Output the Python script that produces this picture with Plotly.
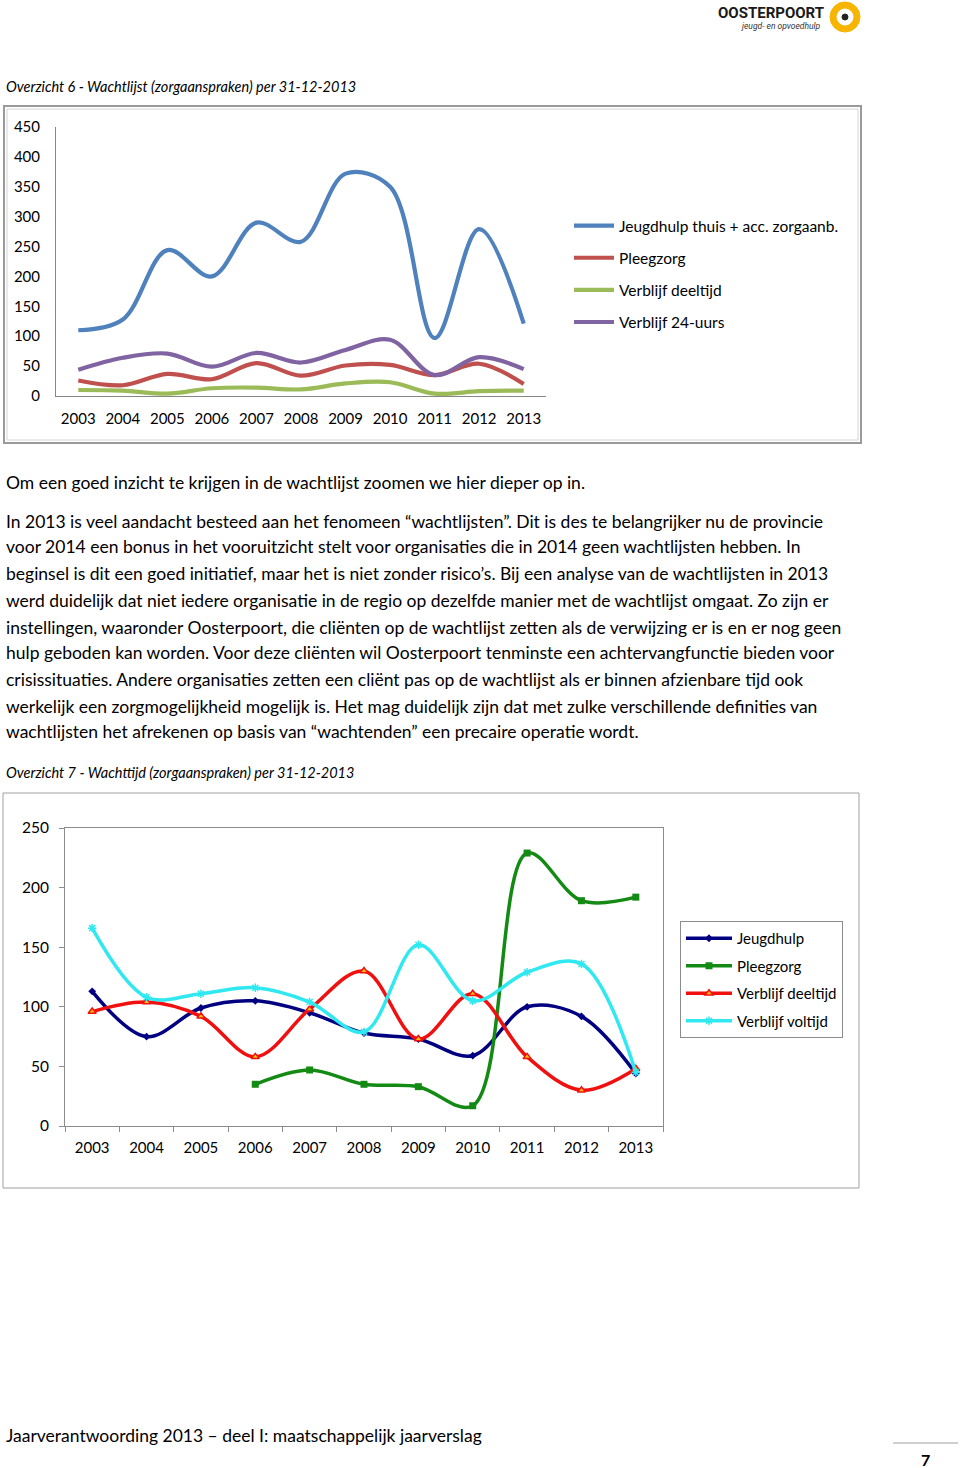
import plotly.graph_objects as go

W, H = 960, 1468
def px(x): return x / W
def py(y): return 1 - y / H

# ---------------- Data: Overzicht 6 ----------------
years = ["2003", "2004", "2005", "2006", "2007", "2008", "2009", "2010", "2011", "2012", "2013"]
ov6_names = ["Jeugdhulp thuis + acc. zorgaanb.", "Pleegzorg", "Verblijf deeltijd", "Verblijf 24-uurs"]
ov6_jeugdhulp = [110, 128, 244, 200, 290, 258, 372, 350, 97, 279, 121]
ov6_pleegzorg = [26, 18, 37, 28, 55, 34, 51, 52, 35, 54, 20]
ov6_deeltijd = [10, 9, 4, 13, 14, 11, 21, 23, 4, 8, 9]
ov6_24uurs = [44, 64, 71, 49, 72, 56, 77, 94, 35, 65, 45]
ov6_colors = ["#4F81BD", "#C0504D", "#9BBB59", "#8064A2"]

# ---------------- Data: Overzicht 7 ----------------
ov7_names = ["Jeugdhulp", "Pleegzorg", "Verblijf deeltijd", "Verblijf voltijd"]
ov7_jeugdhulp = [113, 75, 99, 105, 95, 78, 73, 59, 100, 92, 44]
ov7_pleegzorg = [None, None, None, 35, 47, 35, 33, 17, 229, 189, 192]
ov7_deeltijd = [96, 104, 92, 58, 98, 130, 73, 111, 58, 30, 48]
ov7_voltijd = [166, 108, 111, 116, 104, 79, 152, 105, 129, 136, 45]
ov7_colors = ["#000080", "#138A13", "#F01010", "#30E8F0"]

FONT = "Lato, Calibri, Carlito, sans-serif"

fig = go.Figure()

# Chart 1 traces
for name, vals, col in zip(ov6_names, [ov6_jeugdhulp, ov6_pleegzorg, ov6_deeltijd, ov6_24uurs], ov6_colors):
    fig.add_trace(go.Scatter(x=years, y=vals, name=name, mode="lines",
                             line=dict(color=col, width=4.2, shape="spline", smoothing=1.0),
                             xaxis="x", yaxis="y", legend="legend", legendgroup=name))

# Chart 2 traces
markers = [dict(symbol="diamond", size=6, color=ov7_colors[0]),
           dict(symbol="square", size=7, color=ov7_colors[1]),
           dict(symbol="triangle-up", size=7, color="#FFC000", line=dict(color="#F01010", width=1.5)),
           dict(symbol="asterisk-open", size=7, color=ov7_colors[3], line=dict(color=ov7_colors[3], width=1.5))]
for name, vals, col, mk in zip(ov7_names, [ov7_jeugdhulp, ov7_pleegzorg, ov7_deeltijd, ov7_voltijd], ov7_colors, markers):
    fig.add_trace(go.Scatter(x=years, y=vals, name=name, mode="lines+markers",
                             line=dict(color=col, width=3.5, shape="spline", smoothing=1.0),
                             marker=mk, connectgaps=False,
                             xaxis="x2", yaxis="y2", legend="legend2", legendgroup="b" + name))

tickfont = dict(family=FONT, size=15, color="#000000")

fig.update_layout(
    width=W, height=H, margin=dict(l=0, r=0, t=0, b=0, pad=0, autoexpand=False),
    paper_bgcolor="white", plot_bgcolor="white",
    font=dict(family=FONT, color="#000000"),
    showlegend=True,
    xaxis=dict(domain=[px(56), px(546)], type="category", range=[-0.5, 10.5], automargin=False,
               showline=True, linecolor="#868686", linewidth=1, showgrid=False, zeroline=False,
               ticks="", tickfont=tickfont, ticklabelstandoff=9, anchor="y", fixedrange=True),
    yaxis=dict(domain=[py(396), py(127)], range=[0, 450], dtick=50, automargin=False,
               showline=True, linecolor="#868686", linewidth=1, showgrid=False, zeroline=False,
               ticks="", tickfont=tickfont, ticklabelstandoff=12, anchor="x", fixedrange=True),
    xaxis2=dict(domain=[px(65), px(663)], type="category", range=[-0.5, 10.5], automargin=False,
                showline=True, mirror=True, linecolor="#8C8C8C", linewidth=1, showgrid=False, zeroline=False,
                ticks="outside", tickson="boundaries", ticklen=5, tickcolor="#8C8C8C",
                tickfont=tickfont, ticklabelstandoff=8, anchor="y2", fixedrange=True),
    yaxis2=dict(domain=[py(1126), py(828)], range=[0, 250], dtick=50, automargin=False,
                showline=True, mirror=True, linecolor="#8C8C8C", linewidth=1, showgrid=False, zeroline=False,
                ticks="outside", ticklen=5, tickcolor="#8C8C8C",
                tickfont=dict(family=FONT, size=15.5, color="#000"), ticklabelstandoff=7, anchor="x2", fixedrange=True),
    legend=dict(x=px(569), y=py(209), xanchor="left", yanchor="top",
                font=dict(family=FONT, size=15.5, color="#000"), bgcolor="rgba(0,0,0,0)",
                tracegroupgap=9, itemwidth=40),
    legend2=dict(x=px(680), y=py(921), xanchor="left", yanchor="top",
                 font=dict(family=FONT, size=15, color="#000"), bgcolor="white",
                 bordercolor="#8C8C8C", borderwidth=1, tracegroupgap=5, itemwidth=46),
)

shapes = []
# Chart 1 frame (double border)
shapes.append(dict(type="rect", xref="paper", yref="paper", x0=px(4), x1=px(861), y0=py(443), y1=py(106),
                   line=dict(color="#9A9A9A", width=2)))
shapes.append(dict(type="rect", xref="paper", yref="paper", x0=px(7), x1=px(858), y0=py(440), y1=py(109),
                   line=dict(color="#D4D4D4", width=1)))
# Chart 2 frame
shapes.append(dict(type="rect", xref="paper", yref="paper", x0=px(3), x1=px(859), y0=py(1188), y1=py(793),
                   line=dict(color="#A0A0A0", width=1)))
# footer line
shapes.append(dict(type="line", xref="paper", yref="paper", x0=px(893), x1=px(958), y0=py(1443), y1=py(1443),
                   line=dict(color="#A0A0A0", width=1)))
# logo circle
shapes.append(dict(type="circle", xref="paper", yref="paper", x0=px(830), x1=px(860), y0=py(32), y1=py(2),
                   fillcolor="#F7B500", line=dict(color="#F7B500", width=1)))
shapes.append(dict(type="circle", xref="paper", yref="paper", x0=px(837), x1=px(853), y0=py(25), y1=py(9),
                   fillcolor="white", line=dict(color="white", width=1)))
shapes.append(dict(type="circle", xref="paper", yref="paper", x0=px(842), x1=px(848), y0=py(20), y1=py(14),
                   fillcolor="#222222", line=dict(color="#222222", width=1)))
fig.update_layout(shapes=shapes)

ann = []
def text(x, y, s, size=16, anchor="left", **kw):
    ann.append(dict(xref="paper", yref="paper", x=px(x), y=py(y), text=s, showarrow=False,
                    xanchor=anchor, yanchor="middle", font=dict(family=kw.pop("family", FONT), size=size,
                    color=kw.pop("color", "#000")), **kw))

# logo text
text(826, 13, "<b>OOSTERPOORT</b>", size=15, anchor="right", family="Liberation Sans Narrow, Roboto, sans-serif", color="#1a1a1a")
text(823, 26, "<i>jeugd- en opvoedhulp</i>", size=8.5, anchor="right", family="Roboto, sans-serif", color="#333")

text(4, 86, "<i>Overzicht 6 - Wachtlijst (zorgaanspraken) per 31-12-2013</i>", size=14.5)
text(4, 772, "<i>Overzicht 7 - Wachttijd (zorgaanspraken) per 31-12-2013</i>", size=14.5)

body = [
    (483, "Om een goed inzicht te krijgen in de wachtlijst zoomen we hier dieper op in."),
    (521, "In 2013 is veel aandacht besteed aan het fenomeen “wachtlijsten”. Dit is des te belangrijker nu de provincie"),
    (547, "voor 2014 een bonus in het vooruitzicht stelt voor organisaties die in 2014 geen wachtlijsten hebben. In"),
    (574, "beginsel is dit een goed initiatief, maar het is niet zonder risico’s. Bij een analyse van de wachtlijsten in 2013"),
    (600, "werd duidelijk dat niet iedere organisatie in de regio op dezelfde manier met de wachtlijst omgaat. Zo zijn er"),
    (627, "instellingen, waaronder Oosterpoort, die cliënten op de wachtlijst zetten als de verwijzing er is en er nog geen"),
    (653, "hulp geboden kan worden. Voor deze cliënten wil Oosterpoort tenminste een achtervangfunctie bieden voor"),
    (679, "crisissituaties. Andere organisaties zetten een cliënt pas op de wachtlijst als er binnen afzienbare tijd ook"),
    (706, "werkelijk een zorgmogelijkheid mogelijk is. Het mag duidelijk zijn dat met zulke verschillende definities van"),
    (732, "wachtlijsten het afrekenen op basis van “wachtenden” een precaire operatie wordt."),
]
for y, s in body:
    text(4, y, s, size=17.5)

text(4, 1435, "Jaarverantwoording 2013 – deel I: maatschappelijk jaarverslag", size=17.5)
text(925, 1459, "<b>7</b>", size=16, anchor="center")

fig.update_layout(annotations=ann)

fig.write_html("out.html",
               config={"displayModeBar": False, "staticPlot": True},
               post_script="document.body.style.margin='0';document.body.style.padding='0';"
                           "document.documentElement.style.overflow='hidden';")
